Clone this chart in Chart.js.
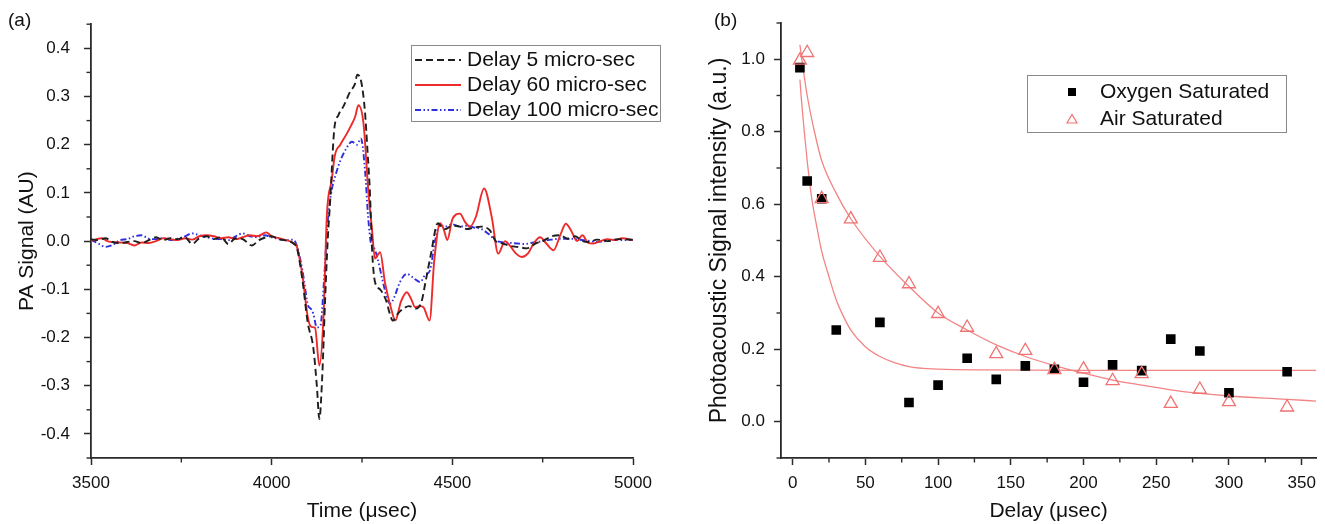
<!DOCTYPE html>
<html>
<head>
<meta charset="utf-8">
<script src="https://cdn.jsdelivr.net/npm/chart.js@4.4.1/dist/chart.umd.min.js"></script>
<style>
    body { margin: 0; background: #fff; width: 1325px; height: 524px; overflow: hidden; position: relative; }
    canvas { position: absolute; top: 0; }
    #chartA { left: 0; }
    #chartB { left: 662px; }
</style>
</head>
<body>
<canvas id="chartA" width="662" height="524"></canvas>
<canvas id="chartB" width="663" height="524"></canvas>
<script>
// Panel (a): señales PA
const tRojo = [3500,3515,3530,3545,3560,3580,3600,3620,3640,3660,3680,3700,3720,3740,3760,3780,3800,3820,3840,3860,3880,3900,3920,3940,3960,3985,4000,4020,4040,4060,4070,4085,4100,4110,4120,4132,4143,4153,4166,4175,4190,4208,4220,4231,4240,4254,4268,4277,4286,4300,4314,4332,4342,4358,4374,4386,4397,4410,4420,4437,4450,4466,4476,4486,4500,4521,4535,4549,4565,4588,4609,4627,4646,4660,4675,4692,4710,4725,4743,4760,4780,4800,4814,4830,4845,4860,4875,4890,4910,4930,4950,4970,5000];
const delay60 = [0.000,0.004,0.006,0.000,-0.002,-0.003,-0.004,-0.009,-0.003,-0.004,0.000,0.006,0.004,0.002,0.006,0.003,0.010,0.012,0.010,0.006,0.008,0.004,0.008,0.012,0.010,0.018,0.010,0.006,0.002,-0.004,-0.012,-0.070,-0.158,-0.178,-0.180,-0.258,-0.165,0.057,0.126,0.178,0.200,0.223,0.240,0.258,0.282,0.245,0.099,0.030,-0.036,-0.023,-0.088,-0.144,-0.165,-0.125,-0.106,-0.120,-0.137,-0.135,-0.137,-0.165,-0.040,0.037,0.025,0.002,0.045,0.057,0.040,0.030,0.050,0.109,0.050,-0.026,0.000,-0.010,-0.025,-0.033,-0.025,-0.005,0.008,-0.005,-0.019,0.015,0.036,0.020,0.000,0.012,-0.003,-0.005,0.000,0.004,0.002,0.006,0.002];

const tNegro = [3500,3520,3540,3560,3580,3600,3620,3640,3660,3680,3700,3720,3740,3760,3780,3800,3820,3840,3860,3880,3900,3920,3945,3965,3985,4000,4020,4040,4060,4070,4085,4100,4115,4125,4132,4140,4148,4155,4162,4173,4185,4199,4217,4230,4237,4248,4258,4265,4272,4278,4286,4300,4315,4336,4350,4365,4380,4400,4415,4425,4440,4460,4470,4480,4500,4521,4540,4560,4580,4604,4620,4640,4660,4680,4706,4730,4750,4775,4798,4820,4840,4860,4880,4900,4930,4960,5000];
const delay5 = [0.004,0.002,0.006,-0.002,-0.004,-0.002,0.000,-0.004,0.002,0.008,0.002,0.006,0.004,0.008,-0.006,0.006,0.010,0.004,0.008,-0.006,0.006,0.004,-0.009,0.002,0.008,0.010,0.004,0.001,-0.005,-0.015,-0.080,-0.170,-0.220,-0.300,-0.369,-0.280,-0.120,0.000,0.085,0.230,0.262,0.280,0.310,0.325,0.345,0.330,0.270,0.190,0.100,-0.020,-0.085,-0.100,-0.120,-0.165,-0.150,-0.140,-0.135,-0.140,-0.125,-0.088,-0.030,0.037,0.030,0.025,0.032,0.030,0.025,0.028,0.030,0.022,0.000,-0.005,-0.010,-0.012,-0.015,-0.005,0.000,0.010,0.012,0.005,0.010,0.000,-0.002,0.003,0.000,0.004,0.003];

const tAzul = [3500,3520,3540,3560,3580,3600,3620,3640,3660,3680,3700,3720,3740,3760,3780,3800,3820,3840,3860,3880,3900,3920,3940,3960,3980,4000,4020,4040,4060,4070,4085,4101,4108,4115,4125,4135,4145,4155,4166,4178,4190,4205,4222,4236,4247,4258,4267,4275,4282,4292,4305,4318,4328,4340,4355,4374,4390,4411,4425,4438,4452,4466,4480,4500,4520,4540,4560,4580,4600,4623,4650,4680,4700,4725,4750,4775,4800,4826,4850,4875,4900,4925,4950,4975,5000];
const delay100 = [0.003,-0.005,-0.012,-0.008,0.002,0.004,0.010,0.012,0.005,0.004,0.006,0.002,0.005,0.010,0.016,0.012,0.008,0.005,0.004,0.002,0.010,0.016,0.010,0.008,0.012,0.008,0.004,0.002,0.003,-0.010,-0.060,-0.134,-0.140,-0.150,-0.179,-0.175,-0.080,0.040,0.105,0.140,0.167,0.190,0.206,0.200,0.213,0.150,0.050,-0.005,-0.012,-0.033,-0.075,-0.115,-0.130,-0.115,-0.085,-0.068,-0.075,-0.085,-0.070,-0.061,0.000,0.033,0.030,0.035,0.030,0.032,0.028,0.025,0.015,0.000,-0.003,-0.005,-0.006,-0.003,0.000,0.003,0.005,0.005,0.003,0.001,-0.002,0.000,0.003,0.002,0.002];

// Panel (b): intensidad vs retardo
const retardoO = [5,10,20,30,60,80,100,120,140,160,180,200,220,240,260,280,300,340];
const oxigeno = [0.977,0.664,0.615,0.253,0.274,0.053,0.101,0.175,0.117,0.154,0.145,0.109,0.157,0.141,0.228,0.195,0.080,0.138];
const retardoA = [5,10,20,40,60,80,100,120,140,160,180,200,220,240,260,280,300,340];
const aire = [0.997,1.018,0.615,0.559,0.453,0.380,0.298,0.260,0.187,0.196,0.143,0.145,0.113,0.132,0.050,0.089,0.055,0.040];

const ajusteOx = [5,6,8,10,13,17,20,25,30,35,40,50,60,70,80,90,100,130,200,360];
const ajusteOxY = [0.944,0.89,0.80,0.72,0.62,0.53,0.47,0.40,0.336,0.29,0.253,0.207,0.18,0.163,0.152,0.147,0.145,0.143,0.142,0.142];
const ajusteAire = [5,7,10,15,20,30,40,60,80,100,120,140,160,180,200,220,240,260,280,300,340,360];
const ajusteAireY = [1.04,0.98,0.90,0.80,0.72,0.63,0.56,0.456,0.373,0.30,0.253,0.212,0.18,0.155,0.134,0.115,0.101,0.088,0.078,0.071,0.062,0.057];

const FUENTE = "'Liberation Sans', Arial, sans-serif";
Chart.defaults.font.family = FUENTE;
Chart.defaults.color = "#111";

const pares = (xs, ys) => xs.map((x, i) => ({ x, y: ys[i] }));
const casi = (v, paso) => Math.abs(v / paso - Math.round(v / paso)) < 1e-6;

function eje(o) {
    return {
        type: "linear",
        min: o.min,
        max: o.max,
        afterFit: s => {
            if (o.ancho) s.width = o.ancho;
            if (o.alto) s.height = o.alto;
        },
        border: { display: true, color: "#2a2a2a", width: 1.8 },
        grid: {
            drawOnChartArea: false,
            tickLength: 7,
            tickWidth: 1.5,
            tickColor: c => (c.tick && o.mayor(c.tick.value)) ? "#2a2a2a" : "rgba(0,0,0,0)"
        },
        ticks: {
            stepSize: o.paso,
            includeBounds: false,
            autoSkip: false,
            maxRotation: 0,
            padding: o.pad,
            color: "#111",
            font: { size: 17 },
            callback: v => o.mayor(v) ? o.fmt(v) : ""
        },
        title: { display: true, text: o.titulo, color: "#111", font: { size: o.tam }, padding: o.tpad }
    };
}

// marcas menores cortas
function menores(mayorX, mayorY) {
    return {
        id: "menores",
        afterDraw(chart) {
            const ctx = chart.ctx;
            const a = chart.chartArea;
            ctx.save();
            ctx.strokeStyle = "#2a2a2a";
            ctx.lineWidth = 1.4;
            [["x", mayorX], ["y", mayorY]].forEach(([id, mayor]) => {
                const s = chart.scales[id];
                s.ticks.forEach(t => {
                    if (mayor(t.value)) return;
                    const p = s.getPixelForValue(t.value);
                    ctx.beginPath();
                    if (id === "x") { ctx.moveTo(p, a.bottom); ctx.lineTo(p, a.bottom + 4.5); }
                    else { ctx.moveTo(a.left - 4.5, p); ctx.lineTo(a.left, p); }
                    ctx.stroke();
                });
            });
            ctx.restore();
        }
    };
}

const leyendaA = {
    id: "leyendaA",
    afterDraw(chart) {
        const ctx = chart.ctx;
        ctx.save();
        ctx.strokeStyle = "#8a8a8a";
        ctx.lineWidth = 1;
        ctx.strokeRect(411.5, 45.5, 249, 76);
        ctx.font = "21px " + FUENTE;
        ctx.textBaseline = "middle";
        chart.data.datasets.forEach((d, i) => {
            const y = 60 + i * 25;
            ctx.strokeStyle = d.borderColor;
            ctx.lineWidth = d.borderWidth;
            ctx.setLineDash(d.borderDash || []);
            ctx.beginPath();
            ctx.moveTo(415, y);
            ctx.lineTo(461, y);
            ctx.stroke();
            ctx.setLineDash([]);
            ctx.fillStyle = "#111";
            ctx.fillText(d.label, 467, y);
        });
        ctx.font = "19px " + FUENTE;
        ctx.fillText("(a)", 8, 21);
        ctx.restore();
    }
};

const leyendaB = {
    id: "leyendaB",
    afterDraw(chart) {
        const ctx = chart.ctx;
        ctx.save();
        ctx.strokeStyle = "#8a8a8a";
        ctx.lineWidth = 1;
        ctx.strokeRect(365.5, 75.5, 259, 57);
        ctx.fillStyle = "#000";
        ctx.fillRect(406, 88, 8, 8);
        ctx.strokeStyle = "#f07272";
        ctx.lineWidth = 1.2;
        ctx.beginPath();
        ctx.moveTo(410, 114.5);
        ctx.lineTo(405, 123);
        ctx.lineTo(415, 123);
        ctx.closePath();
        ctx.stroke();
        ctx.fillStyle = "#111";
        ctx.font = "21px " + FUENTE;
        ctx.textBaseline = "middle";
        ctx.fillText("Oxygen Saturated", 438, 92);
        ctx.fillText("Air Saturated", 438, 119);
        ctx.font = "19px " + FUENTE;
        ctx.fillText("(b)", 52, 21);
        ctx.restore();
    }
};

const mayorAx = v => casi(v, 500);
const mayorAy = v => casi(v, 0.1);
const mayorBx = v => casi(v, 50);
const mayorBy = v => casi(v, 0.2);

new Chart(document.getElementById("chartA"), {
    type: "line",
    data: {
        datasets: [
            { label: "Delay 5 micro-sec", data: pares(tNegro, delay5), borderColor: "#1e1e1e", borderWidth: 1.9, borderDash: [7, 4] },
            { label: "Delay 60 micro-sec", data: pares(tRojo, delay60), borderColor: "#ee2a2a", borderWidth: 1.9 },
            { label: "Delay 100 micro-sec", data: pares(tAzul, delay100), borderColor: "#2f2fe0", borderWidth: 1.9, borderDash: [6, 2.5, 1.5, 2.5, 1.5, 2.5] }
        ]
    },
    options: {
        responsive: false,
        animation: false,
        devicePixelRatio: 1,
        layout: { padding: { top: 23, right: 29, left: 0, bottom: 0 } },
        elements: { point: { radius: 0 }, line: { cubicInterpolationMode: "monotone", fill: false } },
        plugins: { legend: { display: false }, tooltip: { enabled: false } },
        scales: {
            x: eje({ min: 3500, max: 5000, paso: 250, mayor: mayorAx, fmt: v => String(v), pad: 8,
                alto: 66, titulo: "Time (\u03bcsec)", tam: 21, tpad: { top: 0, bottom: 0 } }),
            y: eje({ min: -0.45, max: 0.45, paso: 0.05, mayor: mayorAy, fmt: v => (Math.round(v * 10) / 10).toFixed(1), pad: 14,
                ancho: 91, titulo: "PA Signal (AU)", tam: 21, tpad: { top: 15, bottom: 0 } })
        }
    },
    plugins: [menores(mayorAx, mayorAy), leyendaA]
});

new Chart(document.getElementById("chartB"), {
    type: "scatter",
    data: {
        datasets: [
            { label: "Air Saturated", data: pares(retardoA, aire), pointStyle: "triangle", pointRadius: 7.5,
              borderColor: "#f07272", backgroundColor: "rgba(0,0,0,0)", borderWidth: 1.3, order: 0 },
            { label: "Oxygen Saturated", data: pares(retardoO, oxigeno), pointStyle: "rect", pointRadius: 6.8,
              borderColor: "#000", backgroundColor: "#000", borderWidth: 0, order: 1 },
            { label: "ajuste O2", data: pares(ajusteOx, ajusteOxY), showLine: true, pointRadius: 0,
              borderColor: "#f28484", borderWidth: 1.3, order: 2 },
            { label: "ajuste aire", data: pares(ajusteAire, ajusteAireY), showLine: true, pointRadius: 0,
              borderColor: "#f28484", borderWidth: 1.3, order: 2 }
        ]
    },
    options: {
        responsive: false,
        animation: false,
        devicePixelRatio: 1,
        layout: { padding: { top: 23, right: 7, left: 0, bottom: 0 } },
        elements: { line: { cubicInterpolationMode: "monotone", fill: false } },
        plugins: { legend: { display: false }, tooltip: { enabled: false } },
        scales: {
            x: eje({ min: -8, max: 360, paso: 25, mayor: mayorBx, fmt: v => String(v), pad: 8,
                alto: 66, titulo: "Delay (\u03bcsec)", tam: 21, tpad: { top: 0, bottom: 0 } }),
            y: eje({ min: -0.1, max: 1.1, paso: 0.1, mayor: mayorBy, fmt: v => (Math.round(v * 10) / 10).toFixed(1), pad: 9,
                ancho: 119, titulo: "Photoacoustic Signal intensity (a.u.)", tam: 23, tpad: { top: 44, bottom: 0 } })
        }
    },
    plugins: [menores(mayorBx, mayorBy), leyendaB]
});
</script>
</body>
</html>
